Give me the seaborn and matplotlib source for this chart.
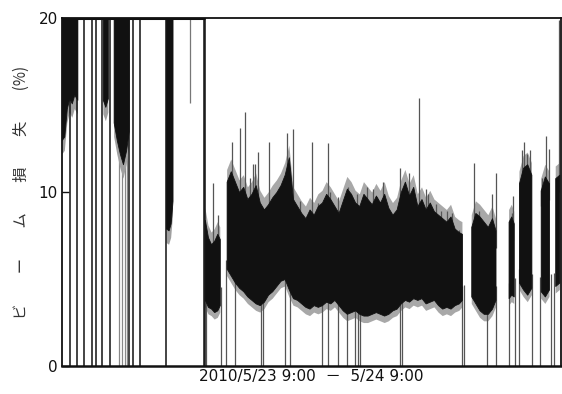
"""
Beam loss over one day (2010/5/23 9:00 - 5/24 9:00), redrawn from a scanned figure.
"""

import numpy as np
import matplotlib
matplotlib.use("Agg")
import matplotlib.pyplot as plt
import seaborn as sns

# --- data (time in hours from 5/23 9:00, loss in %) ---

# left part: loss saturated at 20 %, band reaches down to these levels
sat_t = [0.00, 0.12, 0.24, 0.36, 0.48, 0.60, 0.75, None,
         1.98, 2.10, 2.22, None,
         2.50, 2.65, 2.80, 2.95, 3.10, 3.23, None,
         5.03, 5.15, 5.25, 5.34]
sat_lo = [13.0, 13.2, 14.8, 15.4, 15.1, 15.6, 15.3, None,
          15.3, 14.9, 15.4, None,
          14.0, 13.0, 12.2, 11.6, 12.4, 13.5, None,
          7.9, 7.8, 8.2, 9.5]

# beam trips in the saturated part (full height lines)
trip_t = [0.39, 0.72, 1.06, 1.45, 1.64, 1.93, 2.31, 3.23, 3.42, 3.76, 5.01, 6.84, 6.89]
trip_gray_t = [2.75, 2.92, 3.05, 3.15]
partial_t = [6.17]
partial_v = [15.1]

# normal running: noisy band between lo and hi
band_t = [6.90, 7.05, 7.20, 7.35, 7.50, 7.62, None,
          7.95, 8.15, 8.35, 8.55, 8.75, 8.95, 9.15, 9.35, 9.55, 9.75, 9.95,
          10.15, 10.35, 10.55, 10.75, 10.95, 11.15, 11.35, 11.55, 11.75, 11.95,
          12.15, 12.35, 12.55, 12.75, 12.95, 13.15, 13.35, 13.55, 13.75, 13.95,
          14.15, 14.35, 14.55, 14.75, 14.95, 15.15, 15.35, 15.55, 15.75, 15.95,
          16.15, 16.35, 16.55, 16.75, 16.95, 17.15, 17.35, 17.55, 17.75, 17.95,
          18.15, 18.35, 18.55, 18.75, 18.95, 19.15, 19.30, None,
          19.75, 19.95, 20.15, 20.35, 20.55, 20.75, 20.92, None,
          21.55, 21.68, 21.80, None,
          22.05, 22.25, 22.45, 22.65, None,
          23.10, 23.30, 23.50, None,
          23.80, 24.00]
band_hi = [8.4, 7.4, 7.0, 7.2, 7.6, 7.3, None,
           10.6, 11.2, 10.6, 10.0, 10.3, 9.6, 9.9, 10.4, 9.4, 9.0, 9.3,
           9.7, 10.0, 10.4, 11.0, 12.0, 9.6, 9.2, 8.8, 8.5, 9.0,
           8.7, 9.2, 9.4, 9.9, 9.6, 9.2, 8.8, 9.5, 10.2, 9.9,
           9.4, 9.2, 9.9, 9.6, 9.3, 9.8, 9.4, 9.9, 9.1, 8.7,
           9.0, 10.0, 10.6, 9.8, 10.3, 9.2, 9.6, 9.0, 9.4, 8.9,
           8.7, 8.5, 8.3, 8.6, 7.9, 7.7, 7.6, None,
           8.0, 8.8, 8.6, 8.3, 8.0, 8.5, 7.8, None,
           8.3, 8.6, 8.2, None,
           10.5, 11.4, 11.6, 11.0, None,
           10.1, 10.9, 10.5, None,
           10.8, 11.0]
band_lo = [3.8, 3.4, 3.3, 3.1, 3.2, 3.5, None,
           5.6, 5.2, 4.8, 4.5, 4.3, 4.0, 3.8, 3.6, 3.5, 3.7, 4.1,
           4.3, 4.6, 4.9, 5.0, 4.4, 3.9, 3.8, 3.6, 3.4, 3.3,
           3.5, 3.4, 3.5, 3.7, 3.6, 3.8, 3.5, 3.2, 3.0, 3.1,
           3.2, 3.0, 2.9, 2.9, 3.0, 3.1, 3.0, 2.9, 3.0, 3.2,
           3.3, 3.6, 3.8, 3.7, 3.9, 3.8, 3.9, 3.6, 3.7, 3.8,
           3.5, 3.3, 3.4, 3.3, 3.5, 3.6, 3.8, None,
           4.0, 3.6, 3.2, 3.0, 3.0, 3.3, 3.8, None,
           3.9, 4.1, 4.0, None,
           4.8, 4.4, 4.1, 4.5, None,
           4.3, 4.0, 4.4, None,
           4.6, 4.8]

# upward spikes above the band
spike_t = [7.28, 7.52, 8.19, 8.58, 8.82, 9.06, 9.20, 9.30, 9.45, 9.98,
           10.60, 10.84, 11.13, 11.47, 12.05, 12.34, 12.82, 12.92, 13.30,
           13.80, 14.22, 14.70, 14.99, 15.18, 15.47, 16.29, 16.77, 17.21,
           17.59, 17.64, 18.07, 18.31, 18.60, 18.84, 19.18, 19.86, 20.14,
           20.77, 20.92, 21.70, 21.78, 22.21, 22.31, 22.46, 22.60, 23.13,
           23.18, 23.37, 23.52, 24.00]
spike_v = [10.5, 8.7, 12.9, 13.7, 14.6, 10.8, 11.6, 11.6, 12.3, 12.9,
           10.4, 13.4, 13.6, 9.5, 12.9, 9.4, 12.8, 10.0, 9.7,
           10.3, 9.9, 10.3, 10.2, 9.7, 10.6, 11.4, 11.1, 15.4,
           10.2, 9.9, 9.3, 8.9, 8.9, 8.8, 7.8, 11.7, 8.9,
           9.9, 11.1, 8.8, 9.8, 12.4, 12.9, 12.2, 12.4, 10.1,
           10.8, 13.2, 12.5, 19.9]

# beam trips during normal running (lines down to zero)
drop_t = [6.94, 7.66, 7.90, 8.34, 9.59, 9.69, 10.75, 10.99, 12.53, 12.82,
          13.30, 13.74, 14.12, 14.27, 14.36, 16.29, 16.39, 19.28, 19.42,
          20.53, 20.96, 21.59, 21.88, 22.07, 22.70, 23.08, 23.61, 23.76]


def segments(*cols):
    """Split parallel lists at None markers into numpy chunks."""
    out, cur = [], [[] for _ in cols]
    for row in zip(*cols):
        if row[0] is None:
            out.append([np.array(c, dtype=float) for c in cur])
            cur = [[] for _ in cols]
        else:
            for c, v in zip(cur, row):
                c.append(v)
    out.append([np.array(c, dtype=float) for c in cur])
    return out


sns.set_theme(style="white")
plt.rcParams["font.family"] = ["DejaVu Sans", "Noto Sans CJK JP"]

fig = plt.figure(figsize=(5.62, 3.94), dpi=100)
ax = fig.add_axes([0.110, 0.071, 0.889, 0.883])

ink = "#111111"

# saturated part
ax.vlines(trip_gray_t, 0, 20, color="#888888", lw=0.9, zorder=1)
for t, lo in segments(sat_t, sat_lo):
    ax.fill_between(t, lo - 0.8, 20, color="#a0a0a0", lw=0, zorder=2)
    ax.fill_between(t, lo, 20, color=ink, lw=0.6, zorder=3)
ax.vlines(trip_t, 0, 20, color=ink, lw=1.1, zorder=3)
ax.vlines(partial_t, partial_v, 20, color="#777777", lw=0.9)
ax.hlines(20, 0, 6.9, color=ink, lw=2.2)

# normal running band: gray fuzzy fringe, black core
bt, blo, bhi = [], [], []
for t, lo, hi in segments(band_t, band_lo, band_hi):
    ax.fill_between(t, lo - 0.4, hi + 0.7, color="#a8a8a8", lw=0, zorder=2)
    ax.fill_between(t, lo, hi, color=ink, lw=0.6, zorder=3)
    bt.append(t); blo.append(lo); bhi.append(hi)
bt, blo, bhi = np.concatenate(bt), np.concatenate(blo), np.concatenate(bhi)

spike_base = np.interp(spike_t, bt, bhi) - 1.0
ax.vlines(spike_t, spike_base, spike_v, color="#555555", lw=0.9, zorder=2)
drop_top = np.interp(drop_t, bt, blo) + 0.8
ax.vlines(drop_t, 0, drop_top, color="#555555", lw=0.9, zorder=2)

ax.set_xlim(0, 24.1)
ax.set_ylim(0, 20)
ax.set_yticks([0, 10, 20])
ax.set_xticks([])
ax.tick_params(axis="y", direction="in", length=5, width=1, pad=3,
               labelsize=11, colors=ink, left=True)
for s in ax.spines.values():
    s.set_color(ink)
    s.set_linewidth(1.3)
    s.set_zorder(5)
ax.spines["bottom"].set_linewidth(1.8)

ax.set_xlabel("2010/5/23 9:00  \uff0d  5/24 9:00", fontsize=11, color=ink, labelpad=2)
ax.set_ylabel("ビ\u3000\u3000ー\u3000\u3000ム\u3000\u3000損\u3000\u3000失\u3000\u3000(%)",
              fontsize=11, color="#333333", labelpad=6,
              family=["Noto Sans CJK JP", "DejaVu Sans"])

fig.savefig("out.png", dpi=100, facecolor="white")
